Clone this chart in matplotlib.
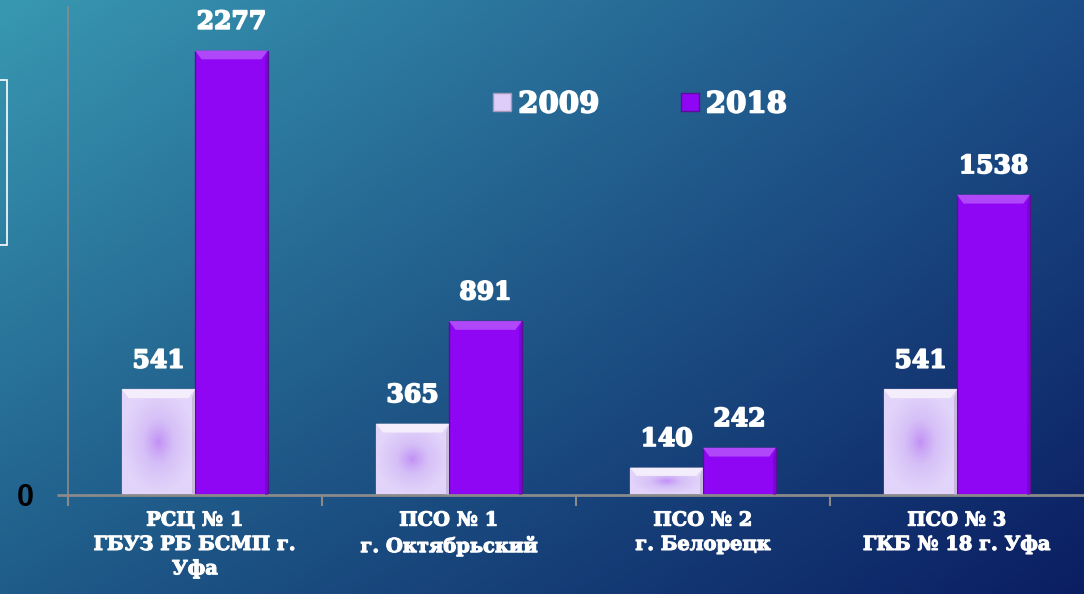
import numpy as np
import matplotlib
matplotlib.use("Agg")
import matplotlib.pyplot as plt
import matplotlib.patheffects as pe
from matplotlib.colors import to_rgb, LinearSegmentedColormap
from matplotlib.patches import Rectangle, Polygon
from matplotlib.font_manager import FontProperties

categories = ["РСЦ № 1\nГБУЗ РБ БСМП г.\nУфа",
              "ПСО № 1\nг. Октябрьский",
              "ПСО № 2\nг. Белорецк",
              "ПСО № 3\nГКБ № 18 г. Уфа"]
values_2009 = [541, 365, 140, 541]
values_2018 = [2277, 891, 242, 1538]
series_names = ["2009", "2018"]


def serif_b(size):
    return FontProperties(family="DejaVu Serif", weight="bold", size=size)


# thicken the white serif text a little
heavy = [pe.withStroke(linewidth=1.2, foreground="white")]
heavy_small = [pe.withStroke(linewidth=0.8, foreground="white")]

fig = plt.figure(figsize=(10.84, 5.94), dpi=100)

# background gradient (bilinear between corner colours)
bg = fig.add_axes([0, 0, 1, 1], zorder=-10)
tl, tr = np.array(to_rgb("#3898b1")), np.array(to_rgb("#1c4d86"))
bl, br = np.array(to_rgb("#1f5c8a")), np.array(to_rgb("#0b1e62"))
u = np.linspace(0, 1, 200)[None, :, None]
v = np.linspace(0, 1, 120)[:, None, None]
img = (1 - v) * ((1 - u) * tl + u * tr) + v * ((1 - u) * bl + u * br)
bg.imshow(img, aspect="auto", extent=(0, 1, 0, 1))
bg.axis("off")
bg.add_patch(Rectangle((-0.01, 1 - 245 / 594), 0.016, 165 / 594, fill=False,
                       edgecolor="white", linewidth=1.2, transform=bg.transAxes))

ax = fig.add_axes([68 / 1084, 99 / 594, 1 - 68 / 1084, 488 / 594])
ax.patch.set_alpha(0)

x = np.arange(len(categories))
w = 0.287
bars09 = ax.bar(x - w / 2, values_2009, w, color="#ddcdf8", edgecolor="#a898bb",
                linewidth=1, label=series_names[0], zorder=2)
bars18 = ax.bar(x + w / 2, values_2018, w, color="#8f06f4", edgecolor="#5c0c9c",
                linewidth=1, label=series_names[1], zorder=2)

# soft radial glow inside the light bars
glow = LinearSegmentedColormap.from_list("glow", ["#c291f5", "#d6c0f7", "#e2d4fa"])
gx, gy = np.meshgrid(np.linspace(-1, 1, 80), np.linspace(-1, 1, 80))
rad = np.clip(np.sqrt(gx ** 2 + gy ** 2), 0, 1) ** 0.8
for b in bars09:
    x0, y0 = b.get_x(), b.get_y()
    im = ax.imshow(rad, cmap=glow, extent=(x0, x0 + b.get_width(), y0, y0 + b.get_height()),
                   aspect="auto", zorder=2.5)
    im.set_clip_path(b)

# bevels: lighter top trapezoid, darker right edge
for bars, top_c, side_c in ((bars09, "#f4eefc", "#b6a8c8"), (bars18, "#b048f9", "#6a0ab8")):
    for b in bars:
        x0, x1, h = b.get_x(), b.get_x() + b.get_width(), b.get_height()
        d = min(45, h * 0.3)
        dx = b.get_width() * 0.09
        ax.add_patch(Polygon([(x0, h), (x1, h), (x1 - dx, h - d), (x0 + dx, h - d)],
                             closed=True, color=top_c, linewidth=0, zorder=2.6))
        ax.add_patch(Polygon([(x1, h), (x1, 0), (x1 - dx * 0.5, 0), (x1 - dx * 0.5, h - d)],
                             closed=True, color=side_c, linewidth=0, zorder=2.6, alpha=0.6))

for bars in (bars09, bars18):
    for b in bars:
        ax.annotate(f"{int(b.get_height())}", (b.get_x() + b.get_width() / 2, b.get_height()),
                    xytext=(0, 12), textcoords="offset points", ha="center", va="bottom",
                    color="white", fontproperties=serif_b(18), path_effects=heavy)

ax.set_xlim(-0.5, 3.5)
ax.set_ylim(0, 2500)
ax.set_xticks(x)
ax.set_xticklabels(categories, color="white", fontproperties=serif_b(14), linespacing=1.45,
                   path_effects=heavy_small)
ax.set_xticks([-0.5, 0.5, 1.5, 2.5], minor=True)
ax.tick_params(axis="x", which="major", length=0, pad=12)
ax.tick_params(axis="x", which="minor", length=8, color="#8a8a8a", width=1.5)
ax.set_yticks([0])
ax.set_yticklabels(["0"], color="black", fontsize=22, fontweight="bold", family="Liberation Sans")
ax.tick_params(axis="y", length=8, color="#8a8a8a", width=2, pad=17)

for s in ("top", "right"):
    ax.spines[s].set_visible(False)
ax.spines["left"].set_color("#8a8a8a")
ax.spines["left"].set_linewidth(1.2)
ax.spines["bottom"].set_color("#8a8a8a")
ax.spines["bottom"].set_linewidth(2)

leg = ax.legend(loc="center left", bbox_to_anchor=(473 / 1084, 1 - 104 / 594),
                bbox_transform=fig.transFigure, ncol=2, frameon=False, prop=serif_b(21),
                handlelength=0.6, handleheight=0.6, handletextpad=0.25, columnspacing=2.8,
                borderpad=0.2)
for t in leg.get_texts():
    t.set_color("white")
    t.set_path_effects(heavy)

fig.savefig("out.png", dpi=100)
